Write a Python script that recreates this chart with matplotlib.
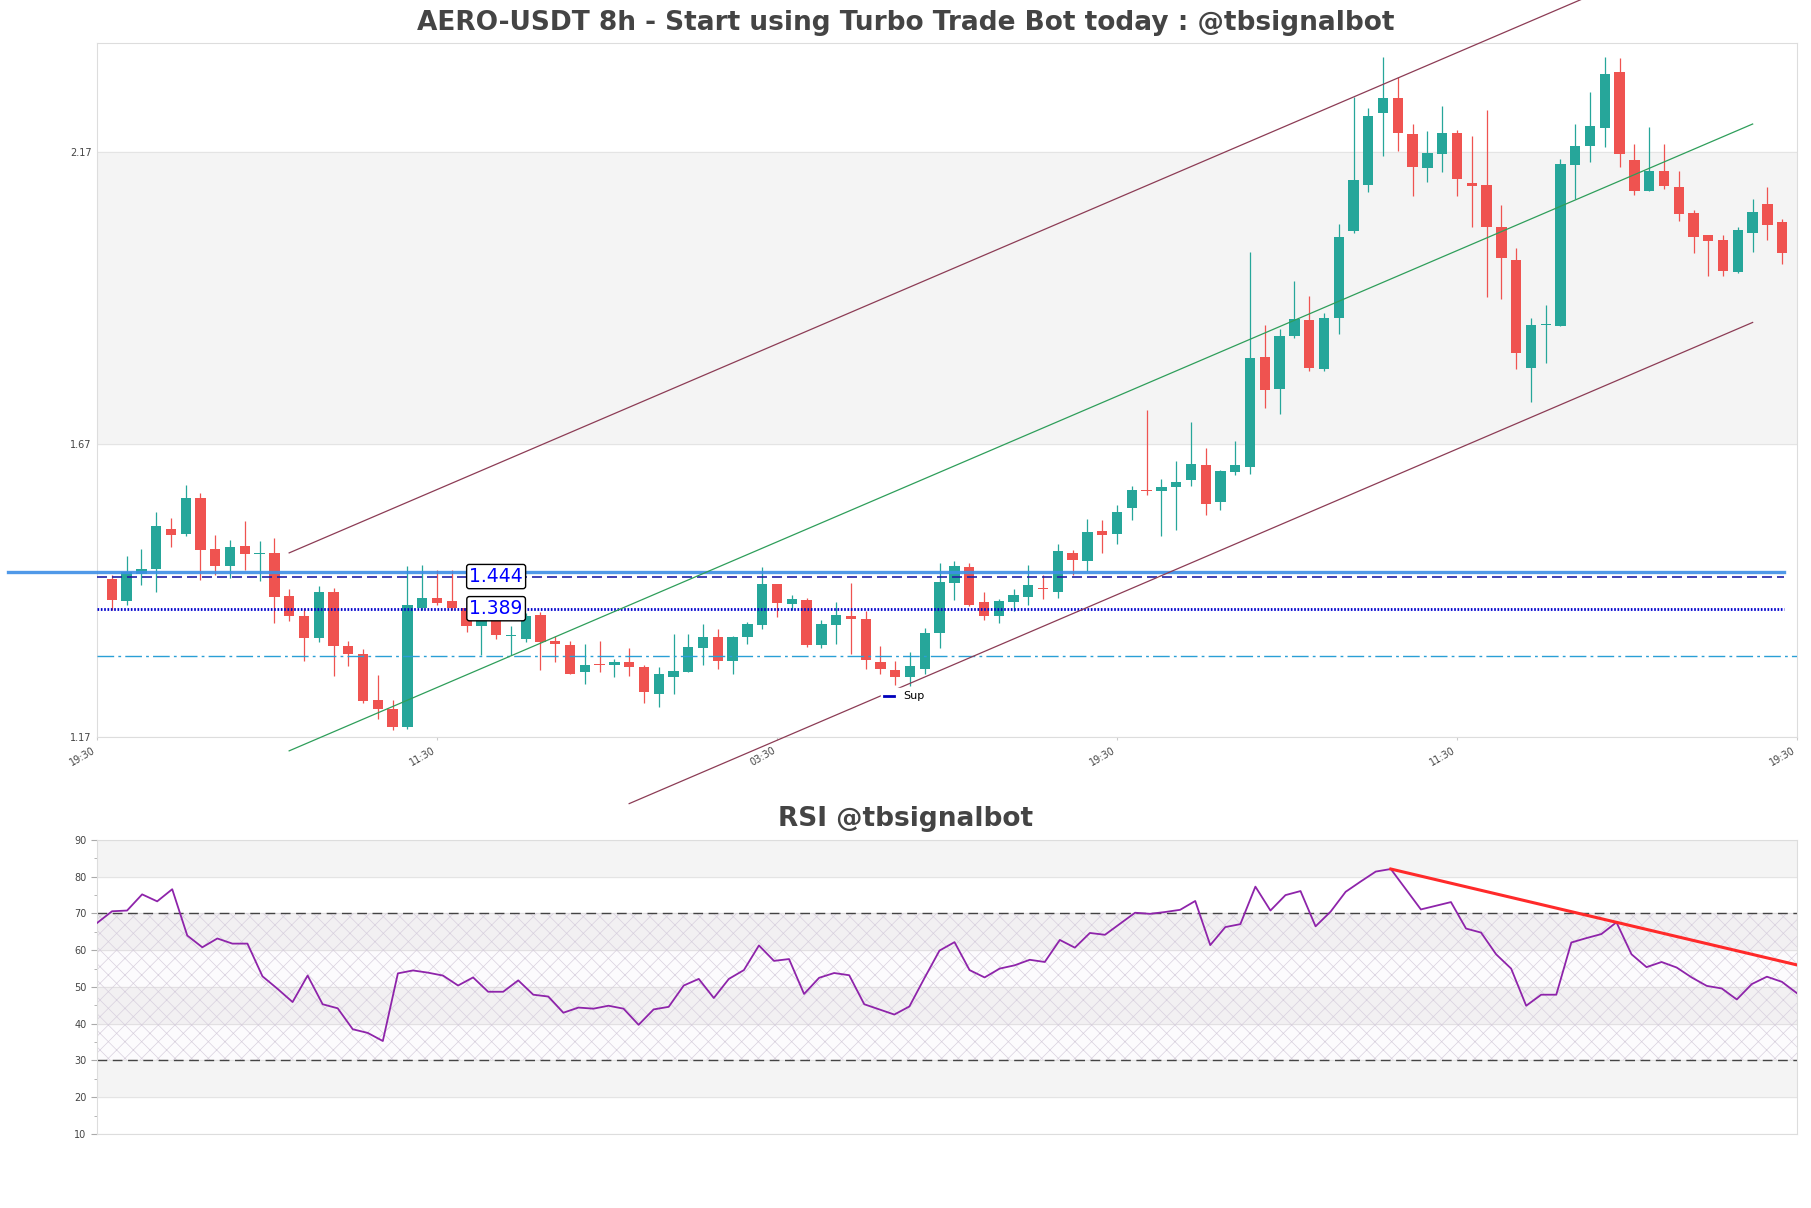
import matplotlib
matplotlib.use('Agg')
import matplotlib.pyplot as plt
from matplotlib.lines import Line2D
import numpy as np

plt.rcParams['font.family'] = ['DejaVu Sans']
plt.rcParams['hatch.linewidth'] = 0.5

# 8h candles, AERO-USDT
opens = [1.4405, 1.4017, 1.4491, 1.4566, 1.5246, 1.5161, 1.5778, 1.4920, 1.4617, 1.4955,
         1.4823, 1.4835, 1.4114, 1.3771, 1.3382, 1.4182, 1.3256, 1.3119, 1.2329, 1.2180,
         1.1872, 1.3896, 1.4080, 1.4028, 1.3902, 1.3599, 1.3771, 1.3425, 1.3376, 1.3788,
         1.3330, 1.3273, 1.2815, 1.2947, 1.2919, 1.2982, 1.2896, 1.2430, 1.2729, 1.2815,
         1.3212, 1.3413, 1.2988, 1.3402, 1.3608, 1.4310, 1.3965, 1.4034, 1.3264, 1.3608,
         1.3758, 1.3706, 1.2982, 1.2844, 1.2729, 1.2861, 1.3482, 1.4327, 1.4603, 1.3999,
         1.3764, 1.3999, 1.4087, 1.4252, 1.4178, 1.4850, 1.4702, 1.5220, 1.5163, 1.5613,
         1.5926, 1.5897, 1.5966, 1.6085, 1.6347, 1.5710, 1.6222, 1.6319, 1.8197, 1.7651,
         1.8556, 1.8829, 1.7992, 1.8856, 2.0346, 2.1137, 2.2371, 2.2627, 2.2013, 2.1427,
         2.1666, 2.2030, 2.1177, 2.1131, 2.0426, 1.9851, 1.8014, 1.8745, 1.8731, 2.1490,
         2.1802, 2.2121, 2.3076, 2.1575, 2.1035, 2.1387, 2.1097, 2.0659, 2.0278, 2.0193,
         1.9652, 2.0318, 2.0807, 2.0500]
highs = [1.4474, 1.4800, 1.4903, 1.5538, 1.5435, 1.6001, 1.5864, 1.5143, 1.5058, 1.5389,
         1.5040, 1.5092, 1.4234, 1.3902, 1.4285, 1.4251, 1.3330, 1.3199, 1.2758, 1.2329,
         1.4617, 1.4634, 1.4560, 1.4560, 1.3931, 1.3771, 1.3788, 1.3588, 1.3816, 1.3834,
         1.3416, 1.3342, 1.3292, 1.3338, 1.3034, 1.3223, 1.2919, 1.2890, 1.3465, 1.3465,
         1.3620, 1.3551, 1.3430, 1.3666, 1.4597, 1.4315, 1.4120, 1.4068, 1.3700, 1.3999,
         1.4327, 1.3856, 1.3258, 1.2999, 1.3149, 1.3568, 1.4672, 1.4706, 1.4672, 1.4183,
         1.4051, 1.4223, 1.4645, 1.4463, 1.5004, 1.4896, 1.5431, 1.5414, 1.5658, 1.5994,
         1.7292, 1.6114, 1.6421, 1.7087, 1.6643, 1.6255, 1.6763, 2.0001, 1.8743, 1.8669,
         1.9495, 1.9239, 1.8948, 2.0477, 2.2644, 2.2457, 2.3338, 2.2980, 2.2184, 2.2058,
         2.2496, 2.2087, 2.1973, 2.2428, 2.0790, 2.0068, 1.8862, 1.9084, 2.1592, 2.2183,
         2.2735, 2.3332, 2.3310, 2.1842, 2.2132, 2.1842, 2.1387, 2.0705, 2.0278, 2.0278,
         2.0426, 2.0892, 2.1097, 2.0551]
lows = [1.3873, 1.3948, 1.4291, 1.4171, 1.4943, 1.5132, 1.4377, 1.4463, 1.4417, 1.4549,
        1.4360, 1.3639, 1.3673, 1.2987, 1.3313, 1.2730, 1.2913, 1.2283, 1.1997, 1.1814,
        1.1826, 1.3874, 1.3959, 1.3874, 1.3496, 1.3101, 1.3376, 1.3101, 1.3313, 1.2833,
        1.2970, 1.2775, 1.2603, 1.2815, 1.2729, 1.2746, 1.2281, 1.2212, 1.2430, 1.2804,
        1.2930, 1.2861, 1.2775, 1.3281, 1.3539, 1.3741, 1.3867, 1.3229, 1.3212, 1.3281,
        1.3120, 1.2861, 1.2775, 1.2591, 1.2574, 1.2775, 1.3212, 1.4034, 1.3930, 1.3689,
        1.3637, 1.3850, 1.3951, 1.4053, 1.4076, 1.4463, 1.4543, 1.4839, 1.4998, 1.5402,
        1.5829, 1.5129, 1.5231, 1.5983, 1.5488, 1.5573, 1.6171, 1.6188, 1.7326, 1.7229,
        1.8527, 1.7964, 1.7964, 1.8583, 2.0323, 2.1017, 2.1632, 2.1717, 2.0949, 2.1188,
        2.1359, 2.0949, 2.0420, 1.9226, 1.9197, 1.7991, 1.7423, 1.8088, 1.8731, 2.0892,
        2.1529, 2.1785, 2.1444, 2.0966, 2.1035, 2.1063, 2.0523, 1.9982, 1.9584, 1.9584,
        1.9641, 1.9994, 2.0204, 1.9794]
closes = [1.4045, 1.4520, 1.4577, 1.5298, 1.5149, 1.5790, 1.4892, 1.4617, 1.4938, 1.4823,
          1.4830, 1.4085, 1.3759, 1.3382, 1.4182, 1.3244, 1.3107, 1.2318, 1.2180, 1.1860,
          1.3948, 1.4080, 1.3982, 1.3902, 1.3599, 1.3759, 1.3433, 1.3435, 1.3771, 1.3324,
          1.3284, 1.2781, 1.2930, 1.2919, 1.2982, 1.2884, 1.2470, 1.2775, 1.2827, 1.3241,
          1.3413, 1.2988, 1.3413, 1.3620, 1.4310, 1.3988, 1.4051, 1.3264, 1.3620, 1.3775,
          1.3712, 1.3016, 1.2861, 1.2729, 1.2913, 1.3482, 1.4344, 1.4620, 1.3947, 1.3764,
          1.4016, 1.4120, 1.4287, 1.4224, 1.4884, 1.4719, 1.5203, 1.5146, 1.5545, 1.5926,
          1.5897, 1.5971, 1.6057, 1.6364, 1.5687, 1.6250, 1.6347, 1.8180, 1.7639, 1.8556,
          1.8846, 1.8015, 1.8863, 2.0255, 2.1228, 2.2320, 2.2627, 2.2024, 2.1444, 2.1689,
          2.2030, 2.1234, 2.1120, 2.0420, 1.9891, 1.8259, 1.8748, 1.8755, 2.1507, 2.1814,
          2.2155, 2.3031, 2.1666, 2.1035, 2.1387, 2.1120, 2.0642, 2.0250, 2.0181, 1.9669,
          2.0363, 2.0670, 2.0449, 1.9977]

rsi = [67.4, 70.6, 70.8, 75.2, 73.3, 76.6, 64.0, 60.8, 63.2, 61.8,
       61.8, 52.9, 49.5, 45.9, 53.1, 45.3, 44.2, 38.5, 37.5, 35.3,
       53.7, 54.5, 53.9, 53.1, 50.4, 52.6, 48.7, 48.7, 51.8, 47.9,
       47.4, 43.0, 44.4, 44.1, 44.9, 44.1, 39.7, 43.9, 44.6, 50.4,
       52.2, 47.0, 52.2, 54.6, 61.3, 57.1, 57.6, 48.1, 52.5, 53.8,
       53.2, 45.3, 43.9, 42.5, 44.7, 52.4, 59.9, 62.2, 54.6, 52.6,
       55.0, 55.9, 57.4, 56.8, 62.8, 60.7, 64.7, 64.2, 67.2, 70.2,
       69.9, 70.4, 71.0, 73.4, 61.4, 66.3, 67.1, 77.3, 70.8, 75.0,
       76.1, 66.5, 70.5, 75.9, 78.7, 81.4, 82.1, 76.6, 71.1, 72.1,
       73.1, 65.9, 64.8, 58.9, 55.0, 44.9, 47.9, 47.9, 62.1, 63.3,
       64.4, 67.6, 58.9, 55.4, 56.8, 55.3, 52.6, 50.3, 49.6, 46.6,
       50.8, 52.8, 51.4, 48.3]

tick_labels = ['19:30', '11:30', '03:30', '19:30', '11:30', '19:30']
price_ticks = [1.17, 1.67, 2.17]

resistance = 1.452
level_hi = 1.444
level_lo = 1.389
level_cyan = 1.308

# channel lines (start/end index, price)
chan_x = [12, 111]
chan_upper = [1.4845, 2.557]
chan_mid = [1.1458, 2.2183]
low_x = [35, 111]
chan_lower = [1.0555, 1.8788]

rsi_trend_x = [86, 113]
rsi_trend_y = [82.1, 56.0]

up_col = '#26a69a'
dn_col = '#ef5350'

o = np.array(opens)
h = np.array(highs)
l = np.array(lows)
c = np.array(closes)
x = np.arange(len(o))
cols = np.where(c >= o, up_col, dn_col)

fig = plt.figure(figsize=(18.11, 12.08), dpi=100)
ax = fig.add_axes([0.05356, 0.39015, 0.9387, 0.5743])
ax2 = fig.add_axes([0.05356, 0.06126, 0.9387, 0.2434])

# ---- price panel ----
ax.axhspan(price_ticks[1], price_ticks[2], color='#f4f4f4', zorder=0)
for t in price_ticks:
    ax.axhline(t, color='#e4e4e4', lw=0.8, zorder=0.5)

ax.vlines(x, l, h, colors=cols, lw=0.9, zorder=2)
body_h = np.maximum(np.abs(c - o), 0.0015)
ax.bar(x, body_h, 0.7, bottom=np.minimum(o, c), color=cols, zorder=3)

ax.plot([-7.0, 113.1], [resistance, resistance], color='#3d8ee6', lw=2.4, alpha=0.9,
        clip_on=False, zorder=4)
ax.plot([-1, 113.1], [level_hi, level_hi], color='#2020a8', lw=1.2, ls=(0, (6, 3)), zorder=4)
ax.plot([-1, 113.1], [level_lo, level_lo], color='#0000cc', lw=2.0, ls=(0, (0.6, 0.6)), zorder=4)
ax.plot([-1, 114], [level_cyan, level_cyan], color='#2a9fd6', lw=1.0,
        ls=(0, (12, 3, 2, 3)), zorder=4)

for lv in (level_hi, level_lo):
    ax.text(26, lv, f'{lv:.3f}', color='#0000ff', fontsize=13.5, ha='center', va='center',
            zorder=6, bbox=dict(boxstyle='round,pad=0.14', fc='white', ec='black', lw=1))

ax.plot(chan_x, chan_upper, color='#8c3c55', lw=0.9, clip_on=False, zorder=5)
ax.plot(chan_x, chan_mid, color='#2e9e5a', lw=0.9, clip_on=False, zorder=5)
ax.plot(low_x, chan_lower, color='#8c3c55', lw=0.9, clip_on=False, zorder=5)

leg = ax.legend(handles=[Line2D([0], [0], color='#0000bb', lw=2)], labels=['Sup'],
                loc='center left', bbox_to_anchor=(0.458, 0.058), fontsize=8,
                handlelength=0.9, handletextpad=0.8, borderpad=0.3,
                framealpha=1, facecolor='white', edgecolor='white')
leg.set_zorder(7)

ax.set_xlim(-1, 114)
ax.set_ylim(1.17, 2.357)
ax.set_yticks(price_ticks)
ax.set_yticklabels([f'{t:.2f}' for t in price_ticks])
ax.set_xticks(range(-1, 115, 23))
ax.set_xticklabels(tick_labels, rotation=30, ha='right')
ax.tick_params(axis='both', labelsize=7, colors='#444444', length=0, pad=4)
ax.tick_params(axis='x', length=2, color='#cccccc')
for sp in ax.spines.values():
    sp.set_color('#dddddd')
    sp.set_linewidth(0.8)

fig.text(0.5, 0.981, 'AERO-USDT 8h - Start using Turbo Trade Bot today : @tbsignalbot',
         ha='center', va='center', fontsize=19, fontweight='bold', color='#444444')

# ---- RSI panel ----
xr = np.arange(len(rsi))
for lo_b in (20, 40, 60, 80):
    ax2.axhspan(lo_b, lo_b + 10, color='#f4f4f4', zorder=0)
for t in range(10, 91, 10):
    ax2.axhline(t, color='#e4e4e4', lw=0.8, zorder=0.5)
ax2.fill_between([0, len(rsi) - 1], 30, 70, color='#7b1fa2', alpha=0.015, lw=0, zorder=1)
ax2.fill_between([0, len(rsi) - 1], 30, 70, facecolor='none', hatch='xx',
                 edgecolor='#d8d0de', lw=0, zorder=1)
ax2.axhline(70, color='#444444', lw=1.0, ls=(0, (7, 4)), zorder=2)
ax2.axhline(30, color='#444444', lw=1.0, ls=(0, (7, 4)), zorder=2)
ax2.plot(xr, rsi, color='#8e24aa', lw=1.3, zorder=3)
ax2.plot(rsi_trend_x, rsi_trend_y, color='#ff2a2a', lw=2.2, zorder=4)

ax2.set_xlim(0, len(rsi) - 1)
ax2.set_ylim(10, 90)
ax2.set_yticks(range(10, 91, 10))
ax2.set_yticks(range(15, 90, 10), minor=True)
ax2.set_xticks([])
ax2.tick_params(axis='y', labelsize=7, colors='#444444', length=4, color='#aaaaaa')
ax2.tick_params(axis='y', which='minor', length=2, color='#aaaaaa')
for sp in ax2.spines.values():
    sp.set_color('#dddddd')
    sp.set_linewidth(0.8)

fig.text(0.5, 0.322, 'RSI @tbsignalbot', ha='center', va='center', fontsize=19,
         fontweight='bold', color='#444444')

fig.savefig('out.png', dpi=100)
